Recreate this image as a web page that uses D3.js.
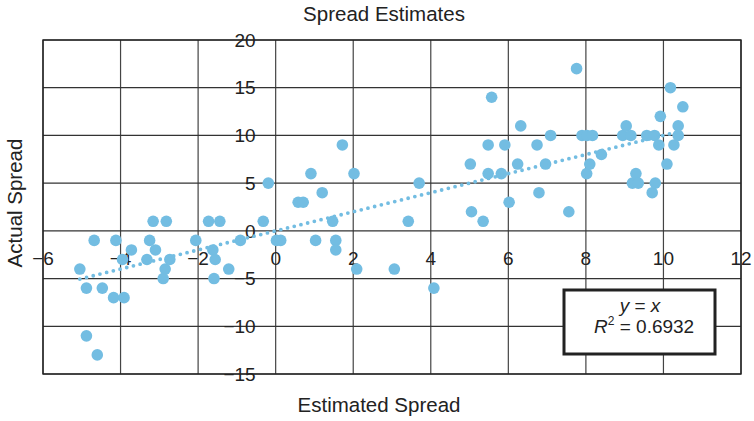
<!DOCTYPE html>
<html>
<head>
<meta charset="utf-8">
<script src="https://cdn.jsdelivr.net/npm/d3@7"></script>
<style>
    body { margin: 0; background: #fff; }
    text { font-family: "Liberation Sans", Arial, sans-serif; fill: #222; }
</style>
</head>
<body>
<div id="scatter-chart"></div>
<script>
var chartTitle = "Spread Estimates",
    xTitle = "Estimated Spread",
    yTitle = "Actual Spread";

var xTicks = [-6, -4, -2, 0, 2, 4, 6, 8, 10, 12];
var yTicks = [-15, -10, -5, 0, 5, 10, 15, 20];

var estimated = [-5.05, -4.88, -4.47, -4.18, -3.91, -4.88, -4.60, -4.68, -4.12, -3.95,
    -3.72, -3.32, -3.25, -3.16, -3.10, -2.85, -2.90, -2.82, -2.73, -2.06,
    -1.73, -1.62, -1.56, -1.59, -1.44, -1.21, -0.91, -0.32, -0.19, 0.02,
    0.13, 0.58, 0.71, 0.91, 1.03, 1.20, 1.47, 1.55, 1.55, 1.72,
    2.02, 2.09, 3.06, 3.42, 3.70, 4.08, 5.02, 5.05, 5.35, 5.48,
    5.48, 5.57, 5.82, 5.91, 6.02, 6.24, 6.32, 6.74, 6.79, 6.96,
    7.09, 7.56, 7.76, 7.90, 8.03, 8.17, 8.02, 8.10, 8.40, 8.95,
    9.04, 9.16, 9.20, 9.29, 9.35, 9.57, 9.71, 9.77, 9.79, 9.88,
    9.92, 10.09, 10.18, 10.27, 10.38, 10.38, 10.50];

var actual = [-4, -6, -6, -7, -7, -11, -13, -1, -1, -3,
    -2, -3, -1, 1, -2, -4, -5, 1, -3, -1,
    1, -2, -3, -5, 1, -4, -1, 1, 5, -1,
    -1, 3, 3, 6, -1, 4, 1, -1, -2, 9,
    6, -4, -4, 1, 5, -6, 7, 2, 1, 6,
    9, 14, 6, 9, 3, 7, 11, 9, 4, 7,
    10, 2, 17, 10, 10, 10, 6, 7, 8, 10,
    11, 10, 5, 6, 5, 10, 4, 10, 5, 9,
    12, 7, 15, 9, 11, 10, 13];

var eqText = "y = x",
    r2Value = "0.6932";

var width = 754,
    height = 421;

var dotColor = "#73bde2";

var svg = d3.select("#scatter-chart").append("svg")
    .attr("width", width)
    .attr("height", height);

var x = d3.scaleLinear()
    .domain([-6, 12])
    .range([43, 741]);

var y = d3.scaleLinear()
    .domain([-15, 20])
    .range([374, 40]);

/** grid */
var grid = svg.append("g").attr("class", "grid");

grid.selectAll(".vline")
    .data(xTicks)
    .enter().append("line")
    .attr("class", "vline")
    .attr("x1", function(d) { return x(d); })
    .attr("x2", function(d) { return x(d); })
    .attr("y1", y(20))
    .attr("y2", y(-15))
    .attr("stroke", "#444")
    .attr("stroke-width", 1.2);

grid.selectAll(".hline")
    .data(yTicks)
    .enter().append("line")
    .attr("class", "hline")
    .attr("x1", x(-6))
    .attr("x2", x(12))
    .attr("y1", function(d) { return y(d); })
    .attr("y2", function(d) { return y(d); })
    .attr("stroke", "#333")
    .attr("stroke-width", 1.2);

// outer frame
svg.append("rect")
    .attr("x", x(-6))
    .attr("y", y(20))
    .attr("width", x(12) - x(-6))
    .attr("height", y(-15) - y(20))
    .attr("fill", "none")
    .attr("stroke", "#222")
    .attr("stroke-width", 1.4);

function fmt(d) {
    return d < 0 ? "\u2212" + Math.abs(d) : String(d);
}

/** tick labels sit along the zero lines */
svg.selectAll(".x-tick")
    .data(xTicks)
    .enter().append("text")
    .attr("class", "x-tick")
    .attr("x", function(d) { return x(d); })
    .attr("y", y(0) + 34.6)
    .style("text-anchor", "middle")
    .style("font-size", "19px")
    .text(fmt);

svg.selectAll(".y-tick")
    .data(yTicks)
    .enter().append("text")
    .attr("class", "y-tick")
    .attr("x", x(0) - 20)
    .attr("y", function(d) { return y(d) + 6.7; })
    .style("text-anchor", "end")
    .style("font-size", "19px")
    .text(fmt);

/** points */
svg.selectAll(".dot")
    .data(d3.range(estimated.length))
    .enter().append("circle")
    .attr("class", "dot")
    .attr("cx", function(i) { return x(estimated[i]); })
    .attr("cy", function(i) { return y(actual[i]); })
    .attr("r", 5.8)
    .attr("fill", dotColor);

// trendline y = x, over the range of estimates
var ext = d3.extent(estimated);
svg.append("line")
    .attr("x1", x(ext[0]))
    .attr("y1", y(ext[0]))
    .attr("x2", x(ext[1] - 0.2))
    .attr("y2", y(ext[1] - 0.2))
    .attr("stroke", dotColor)
    .attr("stroke-width", 3.8)
    .attr("stroke-linecap", "round")
    .attr("stroke-dasharray", "0,6.9");

/** equation box */
var box = svg.append("g").attr("class", "eq-box");

box.append("rect")
    .attr("x", 564)
    .attr("y", 290)
    .attr("width", 151)
    .attr("height", 64)
    .attr("fill", "#fff")
    .attr("stroke", "#222")
    .attr("stroke-width", 3);

var eq = box.append("text")
    .attr("x", 640)
    .attr("y", 311.5)
    .style("text-anchor", "middle")
    .style("font-size", "19px");
eq.append("tspan").style("font-style", "italic").text("y");
eq.append("tspan").text(" = ");
eq.append("tspan").style("font-style", "italic").text("x");

var r2 = box.append("text")
    .attr("x", 594)
    .attr("y", 333)
    .style("font-size", "19px");
r2.append("tspan").style("font-style", "italic").text("R");
r2.append("tspan").attr("dy", "-8").style("font-size", "12px").text("2");
r2.append("tspan").attr("dy", "8").text(" = " + r2Value);

/** titles */
svg.append("text")
    .attr("x", 384)
    .attr("y", 21)
    .style("text-anchor", "middle")
    .style("font-size", "20.5px")
    .text(chartTitle);

svg.append("text")
    .attr("x", 379)
    .attr("y", 411.5)
    .style("text-anchor", "middle")
    .style("font-size", "20.5px")
    .text(xTitle);

svg.append("text")
    .attr("transform", "translate(22," + 203 + ") rotate(-90)")
    .style("text-anchor", "middle")
    .style("font-size", "20.5px")
    .text(yTitle);
</script>
</body>
</html>
